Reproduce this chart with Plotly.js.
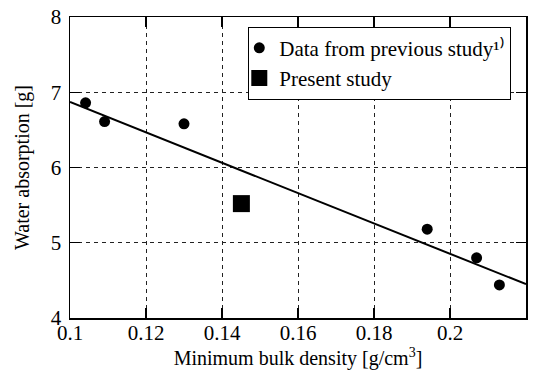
<!DOCTYPE html>
<html>
<head>
<meta charset="utf-8">
<script src="https://cdn.plot.ly/plotly-3.0.1.min.js"></script>
<style>html,body{margin:0;padding:0;background:#fff;}#chart{width:543px;height:371px;}</style>
</head>
<body>
<div id="chart"></div>
<script>
const prevDensity = [0.1041, 0.1091, 0.1300, 0.1940, 0.2070, 0.2130];
const prevAbsorption = [6.86, 6.61, 6.58, 5.18, 4.80, 4.44];
const presentDensity = [0.1451];
const presentAbsorption = [5.52];
const fitDensity = [0.10, 0.22];
const fitAbsorption = [6.87, 4.45];
const xTicks = [0.1, 0.12, 0.14, 0.16, 0.18, 0.2, 0.22];
const xTickText = ["0.1", "0.12", "0.14", "0.16", "0.18", "0.2", "0.22"];
const yTicks = [4, 5, 6, 7, 8];

const font = "Liberation Serif";

const traces = [
  {x: fitDensity, y: fitAbsorption, mode: "lines", line: {color: "#000", width: 2}, showlegend: false, hoverinfo: "skip"},
  {x: prevDensity, y: prevAbsorption, mode: "markers", name: "Data from previous study¹⁾",
   marker: {symbol: "circle", size: 11, color: "#000"}},
  {x: presentDensity, y: presentAbsorption, mode: "markers", name: "Present study",
   marker: {symbol: "square", size: 17, color: "#000"}}
];

const axisCommon = {
  showline: true, linecolor: "#000", linewidth: 1.5, mirror: "ticks",
  ticks: "inside", ticklen: 10, tickwidth: 1.2, tickcolor: "#000",
  showgrid: true, gridcolor: "#222", gridwidth: 1, griddash: "4px,4px",
  zeroline: false, tickfont: {family: font, size: 21, color: "#000"}
};

const layout = {
  width: 543, height: 371,
  margin: {l: 70, r: 17, t: 17, b: 53},
  paper_bgcolor: "#fff", plot_bgcolor: "#fff",
  font: {family: font, color: "#000"},
  xaxis: Object.assign({}, axisCommon, {
    range: [0.1, 0.22], tickvals: xTicks, ticktext: xTickText, ticklabelstandoff: -5,
    title: {text: "Minimum bulk density [g/cm<sup>3</sup>]", font: {family: font, size: 20, color: "#000"}, standoff: 2}
  }),
  yaxis: Object.assign({}, axisCommon, {
    range: [4, 8], tickvals: yTicks, ticklabelstandoff: 3,
    title: {text: "Water absorption [g]", font: {family: font, size: 20, color: "#000"}, standoff: 16}
  }),
  legend: {
    x: 0.391, y: 0.968, xanchor: "left", yanchor: "top",
    bgcolor: "#fff", bordercolor: "#000", borderwidth: 1,
    font: {family: font, size: 21, color: "#000"},
    itemwidth: 30, tracegroupgap: 0, indentation: -10
  },
  showlegend: true
};

Plotly.newPlot("chart", traces, layout, {displayModeBar: false, staticPlot: true});
</script>
</body>
</html>
